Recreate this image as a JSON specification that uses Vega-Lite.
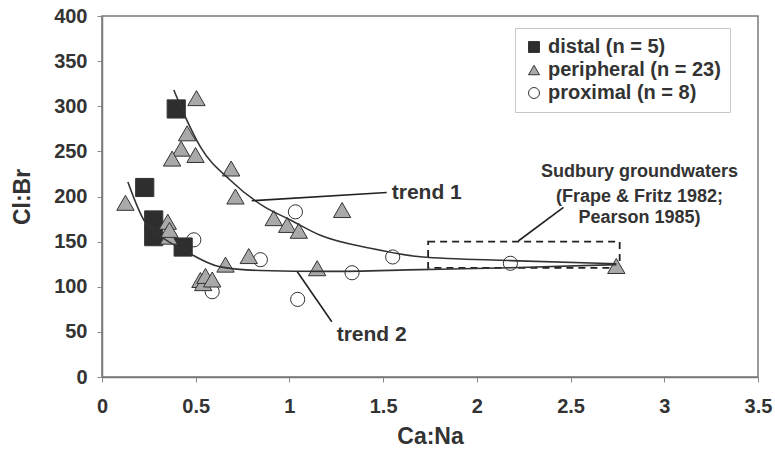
{
  "$schema": "https://vega.github.io/schema/vega-lite/v6.json",
  "width": 656,
  "height": 361,
  "autosize": {"type": "none"},
  "padding": {"left": 102, "top": 16, "right": 17, "bottom": 78},
  "background": "white",
  "config": {
    "view": {"stroke": "#7a7a7a", "strokeWidth": 1.5},
    "font": "Liberation Sans",
    "axis": {
      "grid": false,
      "labelFont": "Liberation Sans",
      "labelFontSize": 20,
      "labelFontWeight": "bold",
      "labelColor": "#333333",
      "titleFont": "Liberation Sans",
      "titleFontSize": 23,
      "titleFontWeight": "bold",
      "titleColor": "#333333",
      "tickSize": 5,
      "tickColor": "#8a8a8a",
      "domainColor": "#7a7a7a",
      "domainWidth": 1.5
    },
    "legend": {
      "orient": "none",
      "padding": 9,
      "strokeColor": "#c8c8c8",
      "fillColor": "white",
      "labelFont": "Liberation Sans",
      "labelFontSize": 20,
      "labelFontWeight": "bold",
      "labelColor": "#333333",
      "labelLimit": 300,
      "symbolSize": 120,
      "symbolStrokeColor": "#333333",
      "symbolStrokeWidth": 1,
      "rowPadding": 3,
      "labelOffset": 4
    }
  },
  "datasets": {
    "points": [
      {"CaNa": 0.49, "ClBr": 152, "group": "proximal (n = 8)"},
      {"CaNa": 0.588, "ClBr": 94.5, "group": "proximal (n = 8)"},
      {"CaNa": 0.845, "ClBr": 130, "group": "proximal (n = 8)"},
      {"CaNa": 1.032, "ClBr": 183, "group": "proximal (n = 8)"},
      {"CaNa": 1.044, "ClBr": 86, "group": "proximal (n = 8)"},
      {"CaNa": 1.334, "ClBr": 115.5, "group": "proximal (n = 8)"},
      {"CaNa": 1.551, "ClBr": 133, "group": "proximal (n = 8)"},
      {"CaNa": 2.179, "ClBr": 126, "group": "proximal (n = 8)"},
      {"CaNa": 0.396, "ClBr": 297, "group": "distal (n = 5)"},
      {"CaNa": 0.228, "ClBr": 210, "group": "distal (n = 5)"},
      {"CaNa": 0.276, "ClBr": 174, "group": "distal (n = 5)"},
      {"CaNa": 0.276, "ClBr": 155.5, "group": "distal (n = 5)"},
      {"CaNa": 0.433, "ClBr": 144, "group": "distal (n = 5)"},
      {"CaNa": 0.504, "ClBr": 309, "group": "peripheral (n = 23)"},
      {"CaNa": 0.454, "ClBr": 270, "group": "peripheral (n = 23)"},
      {"CaNa": 0.422, "ClBr": 253, "group": "peripheral (n = 23)"},
      {"CaNa": 0.374, "ClBr": 242, "group": "peripheral (n = 23)"},
      {"CaNa": 0.499, "ClBr": 246, "group": "peripheral (n = 23)"},
      {"CaNa": 0.689, "ClBr": 231, "group": "peripheral (n = 23)"},
      {"CaNa": 0.712, "ClBr": 200, "group": "peripheral (n = 23)"},
      {"CaNa": 0.125, "ClBr": 193, "group": "peripheral (n = 23)"},
      {"CaNa": 0.351, "ClBr": 172, "group": "peripheral (n = 23)"},
      {"CaNa": 0.356, "ClBr": 155.5, "group": "peripheral (n = 23)"},
      {"CaNa": 0.36, "ClBr": 163, "group": "peripheral (n = 23)"},
      {"CaNa": 0.659, "ClBr": 124.5, "group": "peripheral (n = 23)"},
      {"CaNa": 0.783, "ClBr": 134, "group": "peripheral (n = 23)"},
      {"CaNa": 0.525, "ClBr": 107.5, "group": "peripheral (n = 23)"},
      {"CaNa": 0.54, "ClBr": 104, "group": "peripheral (n = 23)"},
      {"CaNa": 0.552, "ClBr": 112, "group": "peripheral (n = 23)"},
      {"CaNa": 0.588, "ClBr": 108, "group": "peripheral (n = 23)"},
      {"CaNa": 0.916, "ClBr": 176, "group": "peripheral (n = 23)"},
      {"CaNa": 0.988, "ClBr": 168.5, "group": "peripheral (n = 23)"},
      {"CaNa": 1.05, "ClBr": 162, "group": "peripheral (n = 23)"},
      {"CaNa": 1.281, "ClBr": 185, "group": "peripheral (n = 23)"},
      {"CaNa": 1.148, "ClBr": 120.5, "group": "peripheral (n = 23)"},
      {"CaNa": 2.744, "ClBr": 123, "group": "peripheral (n = 23)"}
    ],
    "trends": [
      {"trend": "trend 1", "CaNa": 0.383, "ClBr": 318},
      {"trend": "trend 1", "CaNa": 0.445, "ClBr": 288},
      {"trend": "trend 1", "CaNa": 0.525, "ClBr": 255},
      {"trend": "trend 1", "CaNa": 0.685, "ClBr": 218},
      {"trend": "trend 1", "CaNa": 0.863, "ClBr": 189},
      {"trend": "trend 1", "CaNa": 1.005, "ClBr": 174},
      {"trend": "trend 1", "CaNa": 1.165, "ClBr": 157},
      {"trend": "trend 1", "CaNa": 1.432, "ClBr": 142.6},
      {"trend": "trend 1", "CaNa": 1.699, "ClBr": 133.3},
      {"trend": "trend 1", "CaNa": 2.179, "ClBr": 129},
      {"trend": "trend 1", "CaNa": 2.744, "ClBr": 125.5},
      {"trend": "trend 2", "CaNa": 0.138, "ClBr": 216},
      {"trend": "trend 2", "CaNa": 0.223, "ClBr": 174},
      {"trend": "trend 2", "CaNa": 0.294, "ClBr": 159},
      {"trend": "trend 2", "CaNa": 0.436, "ClBr": 140.7},
      {"trend": "trend 2", "CaNa": 0.632, "ClBr": 122},
      {"trend": "trend 2", "CaNa": 0.845, "ClBr": 118},
      {"trend": "trend 2", "CaNa": 1.2, "ClBr": 117},
      {"trend": "trend 2", "CaNa": 1.7, "ClBr": 119},
      {"trend": "trend 2", "CaNa": 2.18, "ClBr": 121},
      {"trend": "trend 2", "CaNa": 2.744, "ClBr": 124.5}
    ],
    "leaders": [
      {"x1": 0.799, "y1": 195.3, "x2": 1.519, "y2": 204.4},
      {"x1": 1.042, "y1": 116.7, "x2": 1.226, "y2": 61.3},
      {"x1": 2.221, "y1": 150.7, "x2": 2.462, "y2": 188}
    ],
    "box": [
      {"x1": 1.74, "x2": 2.762, "y1": 121, "y2": 150}
    ],
    "labels": [
      {"CaNa": 1.546, "ClBr": 203.5, "label": "trend 1"},
      {"CaNa": 1.252, "ClBr": 46.5, "label": "trend 2"}
    ],
    "notes": [
      {"CaNa": 2.868, "ClBr": 226.8, "label": "Sudbury groundwaters"},
      {"CaNa": 2.868, "ClBr": 199.8, "label": "(Frape & Fritz 1982;"},
      {"CaNa": 2.868, "ClBr": 176.2, "label": "Pearson 1985)"}
    ]
  },
  "layer": [
    {
      "data": {"name": "box"},
      "mark": {"type": "rect", "fill": "white", "fillOpacity": 0, "stroke": "#222222", "strokeWidth": 1.8, "strokeDash": [7, 5]},
      "encoding": {
        "x": {
          "field": "x1", "type": "quantitative", "title": "Ca:Na",
          "scale": {"domain": [0, 3.5], "nice": false, "zero": false},
          "axis": {"values": [0, 0.5, 1, 1.5, 2, 2.5, 3, 3.5], "format": "~g", "labelPadding": 14, "titlePadding": 9, "labelFlush": false}
        },
        "x2": {"field": "x2"},
        "y": {
          "field": "y1", "type": "quantitative", "title": "Cl:Br",
          "scale": {"domain": [0, 400], "nice": false},
          "axis": {"values": [0, 50, 100, 150, 200, 250, 300, 350, 400], "labelPadding": 10, "titlePadding": 19}
        },
        "y2": {"field": "y2"}
      }
    },
    {
      "data": {"name": "points"},
      "transform": [{"filter": "datum.group === 'proximal (n = 8)'"}],
      "mark": {"type": "point", "filled": true, "stroke": "#333333", "strokeWidth": 1, "opacity": 1, "size": 200},
      "encoding": {
        "x": {"field": "CaNa", "type": "quantitative", "title": "Ca:Na"},
        "y": {"field": "ClBr", "type": "quantitative", "title": "Cl:Br"},
        "shape": {
          "field": "group", "type": "nominal", "title": null,
          "scale": {"domain": ["distal (n = 5)", "peripheral (n = 23)", "proximal (n = 8)"], "range": ["square", "triangle-up", "circle"]},
          "legend": {"orient": "none", "legendX": 413, "legendY": 12, "direction": "vertical"}
        },
        "color": {
          "field": "group", "type": "nominal", "title": null,
          "scale": {"domain": ["distal (n = 5)", "peripheral (n = 23)", "proximal (n = 8)"], "range": ["#2e2e2e", "#a9a9a9", "#ffffff"]},
          "legend": {"orient": "none", "legendX": 413, "legendY": 12, "direction": "vertical"}
        }
      }
    },
    {
      "data": {"name": "points"},
      "transform": [{"filter": "datum.group === 'distal (n = 5)'"}],
      "mark": {"type": "point", "filled": true, "stroke": "#333333", "strokeWidth": 1, "opacity": 1, "size": 330},
      "encoding": {
        "x": {"field": "CaNa", "type": "quantitative", "title": "Ca:Na"},
        "y": {"field": "ClBr", "type": "quantitative", "title": "Cl:Br"},
        "shape": {"field": "group", "type": "nominal", "title": null},
        "color": {"field": "group", "type": "nominal", "title": null}
      }
    },
    {
      "data": {"name": "points"},
      "transform": [{"filter": "datum.group === 'peripheral (n = 23)'"}],
      "mark": {"type": "point", "filled": true, "stroke": "#333333", "strokeWidth": 1, "opacity": 1, "size": 300},
      "encoding": {
        "x": {"field": "CaNa", "type": "quantitative", "title": "Ca:Na"},
        "y": {"field": "ClBr", "type": "quantitative", "title": "Cl:Br"},
        "shape": {"field": "group", "type": "nominal", "title": null},
        "color": {"field": "group", "type": "nominal", "title": null}
      }
    },
    {
      "data": {"name": "trends"},
      "mark": {"type": "line", "color": "#333333", "strokeWidth": 1.6, "interpolate": "monotone"},
      "encoding": {
        "x": {"field": "CaNa", "type": "quantitative", "title": "Ca:Na"},
        "y": {"field": "ClBr", "type": "quantitative", "title": "Cl:Br"},
        "detail": {"field": "trend", "type": "nominal"}
      }
    },
    {
      "data": {"name": "leaders"},
      "mark": {"type": "rule", "color": "#222222", "strokeWidth": 1.6},
      "encoding": {
        "x": {"field": "x1", "type": "quantitative", "title": "Ca:Na"},
        "y": {"field": "y1", "type": "quantitative", "title": "Cl:Br"},
        "x2": {"field": "x2"},
        "y2": {"field": "y2"}
      }
    },
    {
      "data": {"name": "labels"},
      "mark": {"type": "text", "align": "left", "baseline": "middle", "font": "Liberation Sans", "fontSize": 21, "fontWeight": "bold", "color": "#333333"},
      "encoding": {
        "x": {"field": "CaNa", "type": "quantitative", "title": "Ca:Na"},
        "y": {"field": "ClBr", "type": "quantitative", "title": "Cl:Br"},
        "text": {"field": "label", "type": "nominal"}
      }
    },
    {
      "data": {"name": "notes"},
      "mark": {"type": "text", "align": "center", "baseline": "middle", "font": "Liberation Sans", "fontSize": 18, "fontWeight": "bold", "color": "#333333"},
      "encoding": {
        "x": {"field": "CaNa", "type": "quantitative", "title": "Ca:Na"},
        "y": {"field": "ClBr", "type": "quantitative", "title": "Cl:Br"},
        "text": {"field": "label", "type": "nominal"}
      }
    }
  ]
}
